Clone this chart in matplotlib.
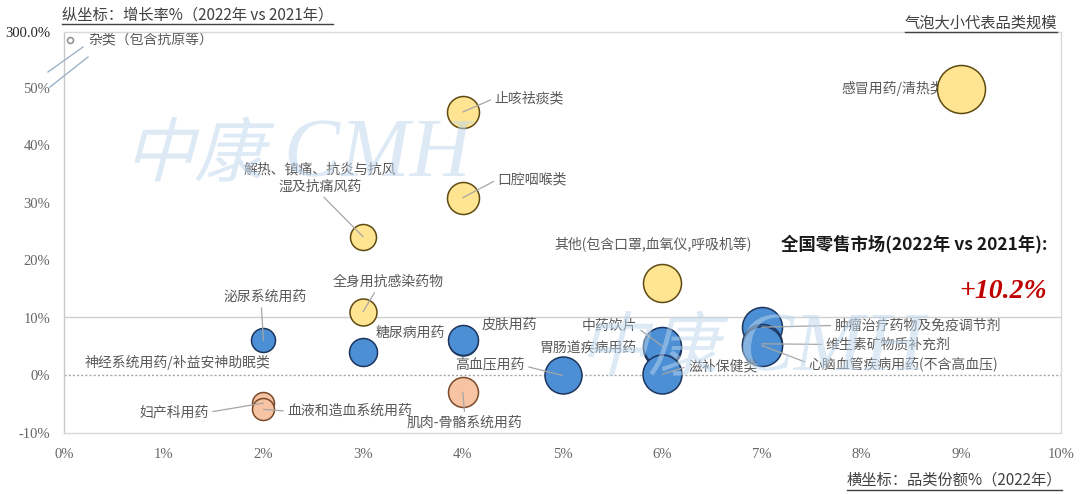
import matplotlib
matplotlib.use("Agg")
import matplotlib.pyplot as plt
from matplotlib.textpath import TextPath
from matplotlib.patches import PathPatch
from matplotlib.font_manager import FontProperties
from matplotlib.transforms import Affine2D
from matplotlib.lines import Line2D

plt.rcParams['font.family'] = ['Noto Sans CJK SC', 'DejaVu Sans']

# ---- data ----
categories = [
    "感冒用药/清热类", "止咳祛痰类", "口腔咽喉类",
    "解热、镇痛、抗炎与抗风\n湿及抗痛风药", "全身用抗感染药物",
    "其他(包含口罩,血氧仪,呼吸机等)",
    "泌尿系统用药", "神经系统用药/补益安神助眠类", "糖尿病用药", "皮肤用药",
    "高血压用药", "胃肠道疾病用药", "中药饮片", "滋补保健类",
    "肿瘤治疗药物及免疫调节剂", "维生素矿物质补充剂", "心脑血管疾病用药(不含高血压)",
    "妇产科用药", "血液和造血系统用药", "肌肉-骨骼系统用药",
    "杂类（包含抗原等）",
]
share = [9.0, 4.0, 4.0, 3.0, 3.0, 6.0,
         2.0, 3.0, 4.0, 4.0, 5.0, 6.0, 6.0, 6.0, 7.0, 7.0, 7.0,
         2.0, 2.0, 4.0, 0.06]                      # 品类份额 % (2022)
growth = [49.8, 45.8, 30.9, 24.1, 11.1, 16.1,
          6.1, 4.0, 6.0, 6.1, 0.0, 4.8, 5.1, 0.2, 8.4, 5.5, 5.2,
          -4.8, -5.9, -2.9, 265.0]                  # 增长率 % (2022 vs 2021)
scale = [48, 32, 32, 26, 27, 38,
         24, 28, 29, 30, 37, 38, 38, 39, 40, 40, 40,
         22, 22, 30, 6]                             # 品类规模 (相对)
group = ["up"] * 6 + ["mid"] * 11 + ["down"] * 3 + ["misc"]
market_growth = 10.2

# ---- styles ----
fills = {"up": "#FFE491", "mid": "#4C8FD4", "down": "#F6C4A2", "misc": "white"}
edges = {"up": "#5E4A12", "mid": "#1C355E", "down": "#7A4A2A", "misc": "#8C8C8C"}
label_color = "#595959"
lead_color = "#A6A6A6"

# broken y axis: values above 50% squeezed into the top band
Y_BREAK, Y_MAX_VAL = 50.0, 300.0
Y_TOP = 59.7


def y_disp(v):
    if v <= Y_BREAK:
        return v
    return Y_BREAK + (v - Y_BREAK) / (Y_MAX_VAL - Y_BREAK) * (Y_TOP - Y_BREAK)


# label placement: (index, text x, text y, ha, leader relpos or None)
label_layout = [
    (0, 8.83, 49.9, "right", None),
    (1, 4.32, 48.2, "left", (0, 0.5)),
    (2, 4.35, 34.1, "left", (0, 0.5)),
    (3, 2.57, 34.3, "center", (0.5, 0)),
    (4, 3.25, 16.3, "center", (0.4, 0)),
    (5, 5.91, 22.9, "center", None),
    (6, 2.02, 13.7, "center", (0.45, 0)),
    (7, 1.14, 2.3, "center", None),
    (8, 3.47, 7.4, "center", None),
    (9, 4.47, 8.8, "center", None),
    (10, 4.62, 1.9, "right", (1, 0.4)),
    (11, 4.77, 4.8, "left", None),
    (12, 5.19, 8.6, "left", (1, 0.4)),
    (13, 6.26, 1.6, "left", (0, 0.5)),
    (14, 7.73, 8.7, "left", (0, 0.5)),
    (15, 7.64, 5.4, "left", (0, 0.5)),
    (16, 7.47, 2.1, "left", (0, 0.5)),
    (17, 1.45, -6.4, "right", (1, 0.5)),
    (18, 2.24, -6.2, "left", (0, 0.5)),
    (19, 4.02, -8.2, "center", (0.5, 1)),
    (20, 0.24, y_disp(265.0), "left", None),
]

W, H = 1081, 494
fig = plt.figure(figsize=(W / 100, H / 100), dpi=100)
ax = fig.add_axes([64 / W, 1 - 433 / H, (1061 - 64) / W, (433 - 32) / H])
ax.set_xlim(0, 10)
ax.set_ylim(-10, Y_TOP)

for side in ["top", "right", "bottom", "left"]:
    ax.spines[side].set_color("#D9D9D9")
    ax.spines[side].set_linewidth(1)
ax.spines["left"].set_color("#C8C8C8")

ax.axhline(market_growth, color="#D0D0D0", lw=1, zorder=1)
ax.axhline(0, color="#A6A6A6", lw=1, ls=(0, (1.5, 1.5)), zorder=1)

# bubbles
for i in range(len(categories)):
    ax.scatter(share[i], y_disp(growth[i]), s=(scale[i] * 0.72) ** 2,
               color=fills[group[i]], edgecolors=edges[group[i]],
               linewidths=1.1, zorder=3)

# labels
for idx, tx, ty, ha, rel in label_layout:
    if rel is None:
        ax.text(tx, ty, categories[idx], ha=ha, va="center", fontsize=10,
                color=label_color, zorder=2, linespacing=1.25)
    else:
        ax.annotate(categories[idx], xy=(share[idx], y_disp(growth[idx])),
                    xytext=(tx, ty), ha=ha, va="center", fontsize=10,
                    color=label_color, zorder=4, linespacing=1.25,
                    arrowprops=dict(arrowstyle="-", color=lead_color, lw=0.9,
                                    shrinkA=1, shrinkB=0, relpos=rel))

# ticks
xt = list(range(0, 11))
ax.set_xticks(xt)
ax.set_xticklabels([f"{v}%" for v in xt])
yt = [-10, 0, 10, 20, 30, 40, 50, Y_TOP]
ax.set_yticks(yt)
ax.set_yticklabels([f"{v}%" for v in yt[:-1]] + [f"{Y_MAX_VAL:.1f}%"])
ax.tick_params(length=0, labelsize=10.5, labelcolor="#666666")
ax.tick_params(axis="x", pad=11)
ax.tick_params(axis="y", pad=10)
for lab in ax.get_xticklabels() + ax.get_yticklabels():
    lab.set_family("Liberation Serif")
ax.get_yticklabels()[-1].set_color("#262626")

# market note
ax.text(9.86, 22.8, "全国零售市场(2022年 vs 2021年):",
        ha="right", va="center", fontsize=12.5, fontweight="bold", color="#1A1A1A")
ax.text(9.86, market_growth + 4.4, f"+{market_growth}%", ha="right", va="center",
        fontsize=20, fontweight="bold", fontstyle="italic", color="#C00000",
        family="Liberation Serif")

# axis break marks
for (x0, y0), (x1, y1) in [((48, 72), (83, 47)), ((50, 87), (88, 57))]:
    fig.add_artist(Line2D([x0 / W, x1 / W], [1 - y0 / H, 1 - y1 / H],
                          color="#9DB3C8", lw=1))

# watermarks "中康 CMH"
cjk = FontProperties(family="Noto Sans CJK SC", weight="light")
lat = FontProperties(family="Liberation Serif", style="italic")
skew = Affine2D().skew_deg(15, 0)
for px, py in [(124, 176), (578, 370)]:
    p1 = TextPath((0, 0), "中康", size=70, prop=cjk)
    p2 = TextPath((0, 0), "CMH", size=84, prop=lat)
    t1 = skew + Affine2D().translate(px, H - py)
    t2 = Affine2D().translate(px + 160, H - py)
    for path, tr in [(p1, t1), (p2, t2)]:
        fig.add_artist(PathPatch(path, transform=tr, facecolor="#BDD7EE",
                                 edgecolor="none", alpha=0.5, zorder=5))

# underlined headers
hdr = dict(fontsize=11, color="#404040")
t_y = fig.text(62 / W, 1 - 15 / H, "纵坐标：增长率%（2022年 vs 2021年）",
               ha="left", va="center", **hdr)
t_b = fig.text(1057 / W, 1 - 23 / H, "气泡大小代表品类规模",
               ha="right", va="center", **hdr)
t_x = fig.text(1062 / W, 1 - 480 / H, "横坐标：品类份额%（2022年）",
               ha="right", va="center", **hdr)
fig.canvas.draw()
r = fig.canvas.get_renderer()
for t in [t_y, t_b, t_x]:
    bb = t.get_window_extent(r)
    fig.add_artist(Line2D([bb.x0 / W, bb.x1 / W], [(bb.y0 - 1) / H] * 2,
                          color="#404040", lw=1))

fig.savefig("out.png", dpi=100, facecolor="white")
